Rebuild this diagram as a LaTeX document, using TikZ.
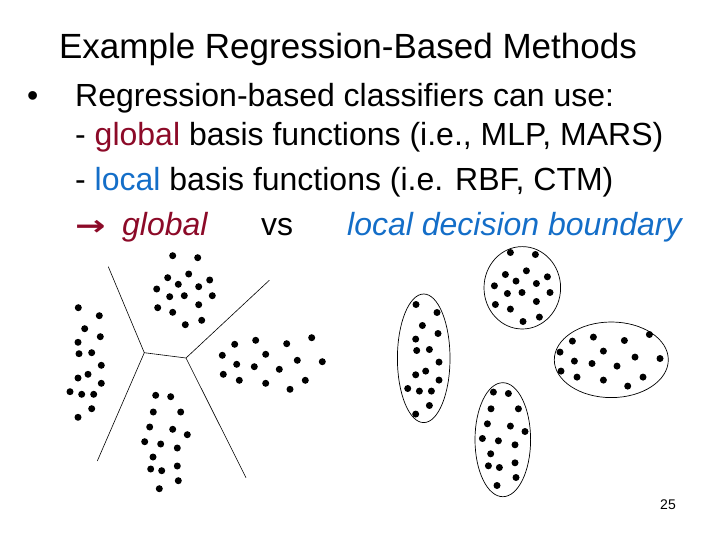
\documentclass[tikz,border=0pt]{standalone}
\usetikzlibrary{shapes.geometric}
\usepackage{fontspec}
\setmainfont{Liberation Sans}
\newfontfamily\djv{DejaVu Sans}
\definecolor{gred}{RGB}{140,10,40}
\definecolor{lblue}{RGB}{20,110,200}
\begin{document}
\begin{tikzpicture}[x=1pt,y=-1pt,
  txt/.style={anchor=base west,inner sep=0pt,font=\fontsize{32}{36}\selectfont},
  dot/.style={circle,fill=black,inner sep=0pt,minimum size=7pt},
  bnd/.style={line width=0.6pt},
  ell/.style={line width=0.7pt}]
\useasboundingbox (0,0) rectangle (720,540);
\node[anchor=base,inner sep=0pt,font=\fontsize{35}{40}\selectfont] (title) at (348,59) {Example Regression-Based Methods};
\node[txt] (bul) at (27,107) {•};
\node[txt] (l1) at (75,107) {Regression-based classifiers can use:};
\node[txt] (l2) at (75,146) {- {\color{gred}global} basis functions (i.e., MLP, MARS)};
\node[txt] (l3) at (75,191) {- {\color{lblue}local} basis functions (i.e. RBF, CTM)};
\node[txt] (ar) at (75,236) {\color{gred}\djv\bfseries\fontsize{28}{30}\selectfont\scalebox{1.3}[1]{→}};
\node[txt] (gl) at (122,236) {\color{gred}\itshape global};
\node[txt] (vs) at (261,236) {vs};
\node[txt] (lo) at (347,236) {\color{lblue}\itshape local decision boundary};
\node[anchor=base,inner sep=0pt,font=\fontsize{14}{16}\selectfont] (pg) at (668,509) {25};
% boundaries
\coordinate (j1) at (144.3,352.7);
\coordinate (j2) at (186,358);
\coordinate (e1) at (108.3,266.7);
\coordinate (e2) at (269.3,280.3);
\coordinate (e3) at (97.3,461);
\coordinate (e4) at (246,477.7);
\draw[bnd] (e1) -- (j1) -- (j2) -- (e2);
\draw[bnd] (j1) -- (e3);
\draw[bnd] (j2) -- (e4);
\def\clusters{
\foreach \p in {(172.7,255.7),(197.7,257.7),(188.7,274),(167.7,277.7),(209.7,280),(178.3,284.3),(198.7,286.7),(156.7,289),(184.3,295.7),(169.7,296.7),(212.3,295.7),(198.7,304.7),(157.7,307.7),(172.7,312.3),(201.7,320.3),(185.3,324.7),
(78.3,307.7),(99.3,315.7),(84.7,328.7),(100.3,336.7),(78,342.3),(79,353.7),(91.7,352.7),(101.3,365.3),(88,374.3),(78,378),(101.3,383.3),(70,391.7),(81.7,394.3),(93.7,394.3),(91.7,408.7),(78,417.3),
(234.7,344.3),(255.7,340.3),(286.7,343.7),(311.7,337.7),(222.3,355.3),(265.7,354.3),(236.7,364.3),(254.3,366.7),(297.3,360.3),(322.3,361.7),(279.3,369.3),(223.3,374.3),(239.3,380.3),(265.7,383.3),(305.3,380.3),(290,389.3),
(155.7,395.3),(170.7,396.7),(153.3,412),(180.7,412),(149.7,427),(172.7,429.3),(187.3,434.7),(144.7,441.7),(160.7,444),(177.3,448),(153,457),(177.3,466),(150.7,469),(161.7,470.7),(178.3,480.7),(159.3,488.7)}
  \node[dot] at \p {};}
\clusters
\begin{scope}[shift={(337.7,-3.2)}]
\clusters
\end{scope}
\node[draw,ell,ellipse,minimum width=52.6pt,minimum height=128.6pt,inner sep=0pt] (c1) at (423.7,358.3) {};
\node[draw,ell,ellipse,minimum width=76.6pt,minimum height=82.4pt,inner sep=0pt] (c2) at (522.3,287.8) {};
\node[draw,ell,ellipse,minimum width=114pt,minimum height=75.6pt,inner sep=0pt] (c3) at (611.3,359.8) {};
\node[draw,ell,ellipse,minimum width=55.6pt,minimum height=114pt,inner sep=0pt] (c4) at (502.8,439.7) {};
\end{tikzpicture}
\end{document}
